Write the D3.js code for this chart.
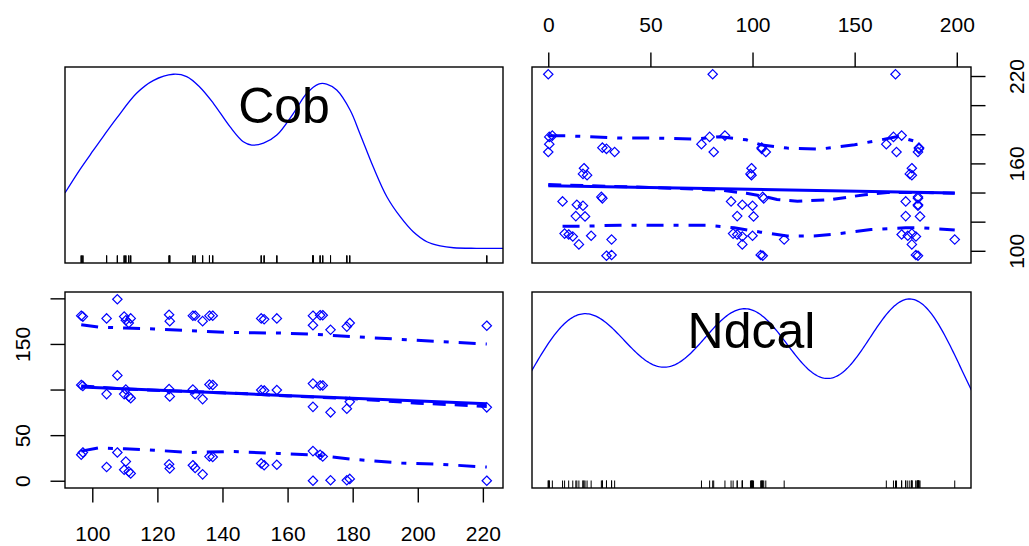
<!DOCTYPE html>
<html>
<head>
<meta charset="utf-8">
<script src="https://cdn.jsdelivr.net/npm/d3@7"></script>
<style>
  body { margin: 0; background: #fff; }
  svg { display: block; }
  text { font-family: "Liberation Sans", Arial, sans-serif; fill: #000; }
</style>
</head>
<body>
<svg id="chart" width="1029" height="546"></svg>
<script>
// ---- data: each Cob level was measured at three Ndcal levels ----
const variableNames = ["Cob", "Ndcal"];
const cobLevels = [96.6, 97.1, 104.4, 107.7, 109.8, 110.3, 111.2, 111.8, 123.6, 123.8,
                   130.9, 131.6, 133.9, 136.0, 137.0, 151.9, 152.8, 156.7, 167.8, 167.8,
                   170.0, 170.8, 173.2, 178.2, 179.1, 221.2];
const ndcalHigh = [181, 180, 178, 199, 180, 176, 173, 178, 182, 175,
                   181, 181, 175, 181, 181, 178, 177, 178, 181, 170.5,
                   181.5, 181.5, 165.5, 169, 173, 170];
const ndcalMid  = [105, 104, 95, 115.5, 95, 100, 92.5, 90.5, 100.5, 92.5,
                   100, 95, 89.5, 105.5, 105, 99.5, 99, 99.5, 106.5, 81,
                   104.5, 104.5, 75, 79, 86.5, 80.5];
const ndcalLow  = [28.5, 31, 15, 31, 12, 21, 10, 8, 18, 13.5,
                   17, 14, 7, 26.5, 26, 19, 17, 17.5, 32.5, 0,
                   28.5, 26.5, 0.5, 0.5, 2, 0];

// density of Cob: positions and height as a share of the peak
const cobDensityAt = [91.6, 96.2, 100.3, 103.4, 107.5, 113.6, 118.7, 124.9, 129, 133, 137.2,
                      142.3, 146.4, 149, 152.6, 156.7, 161.8, 165.9, 169.5, 172, 175.1, 179.2,
                      182.2, 186.3, 190.5, 194.6, 198.6, 202.8, 206.9, 211, 218, 226.2];
const cobDensityHeight = [0.346, 0.475, 0.58, 0.658, 0.758, 0.895, 0.965, 1.0, 0.987, 0.93, 0.84,
                          0.711, 0.628, 0.61, 0.62, 0.665, 0.785, 0.895, 0.946, 0.946, 0.913, 0.803,
                          0.674, 0.49, 0.325, 0.215, 0.132, 0.077, 0.054, 0.044, 0.041, 0.041];

// axis ticks and which of them carry a label
const cobTicks = [100, 120, 140, 160, 180, 200, 220];
const cobSideLabels = [100, 160, 220];
const ndcalTicks = [0, 50, 100, 150, 200];
const ndcalSideLabels = [0, 50, 150];

// fitted lines, Ndcal against Cob: [Cob, Ndcal]
const regNdOnCob = [[96.6, 102.8], [221.2, 84.3]];
const smoothNdOnCob = [[96.6, 104], [110, 100.5], [125, 98.5], [140, 96.5], [150, 95], [160, 93],
                       [170, 91.5], [180, 90], [190, 87.5], [200, 85], [210, 83.5], [221.2, 81.5]];
const upperNdOnCob = [[96.6, 171], [102, 168.5], [110, 167.5], [119, 166.5], [130, 164.5], [143, 162.5],
                      [157, 162], [169, 160.5], [180, 158], [195, 155], [207, 152.5], [221.2, 150]];
const lowerNdOnCob = [[96.6, 32.5], [102, 36], [110, 35], [119, 33.5], [130, 31], [143, 32],
                      [157, 30], [169, 28], [180, 23.5], [195, 19.5], [207, 18], [221.2, 15]];

// fitted lines, Cob against Ndcal: [Ndcal, Cob]
const regCobOnNd = [[0, 144.7], [199, 139.7]];
const smoothCobOnNd = [[0, 145.5], [30, 144.3], [60, 143], [85, 141.5], [97, 139.5], [105, 137.5],
                       [112, 135.2], [122, 134], [138, 135.1], [155, 138.5], [166, 140], [180, 140], [199, 139.5]];
const upperCobOnNd = [[0, 178.9], [10, 178.9], [35, 177.4], [51, 177.4], [71, 176.7], [84, 178.3],
                      [97, 176.2], [104, 172.8], [117, 170.5], [133, 169.8], [150, 172.8], [163, 176.2],
                      [171, 178.5], [180, 175], [182, 170]];
const lowerCobOnNd = [[7, 116.9], [18, 116.9], [35, 117.6], [55, 117.6], [78, 117.6], [91, 115.8],
                      [104, 112.8], [117, 110.1], [130, 110.1], [142, 111.7], [158, 114.6], [175, 115.8],
                      [183, 115.8], [199, 114.3]];

// ---- build observations ----
const rows = [];
cobLevels.forEach((c, i) => {
  rows.push({ Cob: c, Ndcal: ndcalHigh[i] });
  rows.push({ Cob: c, Ndcal: ndcalMid[i] });
  rows.push({ Cob: c, Ndcal: ndcalLow[i] });
});
const cobVals = rows.map(d => d.Cob);
const ndVals = rows.map(d => d.Ndcal);

// ---- layout ----
const BLUE = "#0000ff";
const cols = [[65, 503], [532, 971]];
const rowsY = [[67, 263], [292, 488]];

function padded(vals) {
  const [a, b] = d3.extent(vals);
  const p = (b - a) * 0.04;
  return [a - p, b + p];
}
const dom = { Cob: padded(cobVals), Ndcal: padded(ndVals) };
const xs = [
  d3.scaleLinear().domain(dom.Cob).range(cols[0]),
  d3.scaleLinear().domain(dom.Ndcal).range(cols[1])
];
const ys = [
  d3.scaleLinear().domain(dom.Cob).range([rowsY[0][1], rowsY[0][0]]),
  d3.scaleLinear().domain(dom.Ndcal).range([rowsY[1][1], rowsY[1][0]])
];

const svg = d3.select("#chart");
const defs = svg.append("defs");
[[0, 0], [0, 1], [1, 0], [1, 1]].forEach(([r, c]) => {
  defs.append("clipPath").attr("id", `clip-${r}-${c}`)
    .append("rect")
    .attr("x", cols[c][0]).attr("y", rowsY[r][0])
    .attr("width", cols[c][1] - cols[c][0]).attr("height", rowsY[r][1] - rowsY[r][0]);
});

// ---- adaptive kernel density ----
function bwNrd0(x) {
  const s = d3.deviation(x);
  const sorted = [...x].sort((a, b) => a - b);
  const iqr = d3.quantileSorted(sorted, 0.75) - d3.quantileSorted(sorted, 0.25);
  let lo = Math.min(s, iqr / 1.34);
  if (!(lo > 0)) lo = s || 1;
  return 0.9 * lo * Math.pow(x.length, -0.2);
}
function adaptiveKernel(x, n = 500, cut = 3) {
  const bw = bwNrd0(x);
  const phi = u => Math.exp(-0.5 * u * u) / Math.sqrt(2 * Math.PI);
  const from = d3.min(x) - cut * bw, to = d3.max(x) + cut * bw;
  const pilot = x.map(xi => d3.mean(x, xj => phi((xj - xi) / bw)) / bw);
  const g = Math.exp(d3.mean(pilot, p => Math.log(p)));
  const h = pilot.map(p => bw * Math.pow(p / g, -0.5));
  const pts = d3.range(n).map(k => {
    const x0 = from + (to - from) * k / (n - 1);
    return [x0, d3.mean(x, (xi, i) => phi((x0 - xi) / h[i]) / h[i])];
  });
  const [dmin, dmax] = d3.extent(pts, d => d[1]);
  return pts.map(([x0, d]) => [x0, d / (dmax - dmin)]);
}

// ---- diagonal panels: density, rug, name ----
function diagonal(idx, vals, curvePts, curve) {
  const x = xs[idx], y = ys[idx];
  const g = svg.append("g").attr("clip-path", `url(#clip-${idx}-${idx})`);
  const [vmin, vmax] = d3.extent(vals);
  g.append("path")
    .datum(curvePts)
    .attr("fill", "none").attr("stroke", BLUE).attr("stroke-width", 1.3)
    .attr("d", d3.line().curve(curve)
      .x(d => x(d[0])).y(d => y(vmin + d[1] * (vmax - vmin))));
  const bottom = rowsY[idx][1];
  g.selectAll("line.rug").data(vals).join("line")
    .attr("x1", d => x(d)).attr("x2", d => x(d))
    .attr("y1", bottom).attr("y2", bottom - 7.5)
    .attr("stroke", "#000").attr("stroke-width", 1);
  svg.append("text")
    .attr("x", (cols[idx][0] + cols[idx][1]) / 2)
    .attr("y", rowsY[idx][0] + 55.5)
    .attr("text-anchor", "middle")
    .style("font-size", "50px")
    .text(variableNames[idx]);
}
diagonal(0, cobVals, cobDensityAt.map((c, i) => [c, cobDensityHeight[i]]), d3.curveCatmullRom.alpha(0.5));
diagonal(1, ndVals, adaptiveKernel(ndVals), d3.curveLinear);

// ---- off-diagonal scatter panels ----
const diamond = r => `M0,${-r}L${r},0L0,${r}L${-r},0Z`;
function scatter(r, c, xKey, yKey, fits) {
  const x = xs[c], y = ys[r];
  const g = svg.append("g").attr("clip-path", `url(#clip-${r}-${c})`);
  g.selectAll("path.pt").data(rows).join("path")
    .attr("class", "pt")
    .attr("transform", d => `translate(${x(d[xKey])},${y(d[yKey])})`)
    .attr("d", diamond(4.7))
    .attr("fill", "none").attr("stroke", BLUE).attr("stroke-width", 1.2);
  const line = d3.line().x(d => x(d[0])).y(d => y(d[1]));
  fits.forEach(f => {
    g.append("path").datum(f.data)
      .attr("fill", "none").attr("stroke", BLUE).attr("stroke-width", 3)
      .attr("stroke-dasharray", f.dash || null)
      .attr("d", line);
  });
}
const DOTDASH = "17,10,5,10";
const DASHED = "13,9";
scatter(0, 1, "Ndcal", "Cob", [
  { data: regCobOnNd },
  { data: smoothCobOnNd, dash: DASHED },
  { data: upperCobOnNd, dash: DOTDASH },
  { data: lowerCobOnNd, dash: DOTDASH }
]);
scatter(1, 0, "Cob", "Ndcal", [
  { data: regNdOnCob },
  { data: smoothNdOnCob, dash: DASHED },
  { data: upperNdOnCob, dash: DOTDASH },
  { data: lowerNdOnCob, dash: DOTDASH }
]);

// ---- panel boxes ----
[[0, 0], [0, 1], [1, 0], [1, 1]].forEach(([r, c]) => {
  svg.append("rect")
    .attr("x", cols[c][0]).attr("y", rowsY[r][0])
    .attr("width", cols[c][1] - cols[c][0]).attr("height", rowsY[r][1] - rowsY[r][0])
    .attr("fill", "none").attr("stroke", "#000").attr("stroke-width", 1.4);
});

// ---- axes ----
function styleAxis(sel) {
  sel.select(".domain").remove();
  sel.selectAll(".tick line").attr("stroke", "#000").attr("stroke-width", 1.4);
  sel.selectAll("text").style("font-size", "21px").attr("fill", "#000");
}
const TICK = 14.5;

// bottom: Cob
svg.append("g").attr("transform", `translate(0,${rowsY[1][1]})`)
  .call(d3.axisBottom(xs[0]).tickValues(cobTicks).tickSize(TICK).tickFormat(d3.format("d")))
  .call(styleAxis)
  .call(s => s.selectAll("text").attr("y", 52.5).attr("dy", null));

// top: Ndcal
svg.append("g").attr("transform", `translate(0,${rowsY[0][0]})`)
  .call(d3.axisTop(xs[1]).tickValues(ndcalTicks).tickSize(TICK).tickFormat(d3.format("d")))
  .call(styleAxis)
  .call(s => s.selectAll("text").attr("y", -35.5).attr("dy", null));

// left: Ndcal (rotated labels)
svg.append("g").attr("transform", `translate(${cols[0][0]},0)`)
  .call(d3.axisLeft(ys[1]).tickValues(ndcalTicks).tickSize(TICK)
    .tickFormat(v => ndcalSideLabels.includes(v) ? d3.format("d")(v) : ""))
  .call(styleAxis)
  .call(s => s.selectAll("text")
    .attr("x", 0).attr("y", -35.5).attr("dy", null)
    .attr("transform", "rotate(-90)").attr("text-anchor", "middle"));

// right: Cob (rotated labels)
svg.append("g").attr("transform", `translate(${cols[1][1]},0)`)
  .call(d3.axisRight(ys[0]).tickValues(cobTicks).tickSize(TICK)
    .tickFormat(v => cobSideLabels.includes(v) ? d3.format("d")(v) : ""))
  .call(styleAxis)
  .call(s => s.selectAll("text")
    .attr("x", 0).attr("y", 52.5).attr("dy", null)
    .attr("transform", "rotate(-90)").attr("text-anchor", "middle"));
</script>
</body>
</html>
